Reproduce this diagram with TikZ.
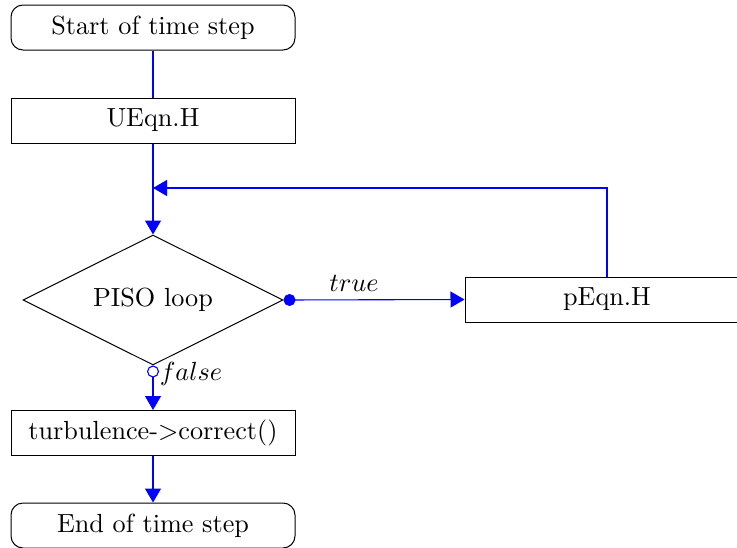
\documentclass[tikz,border=0pt]{standalone}
\usepackage{graphicx}
\usetikzlibrary{shapes.geometric,arrows.meta}
\newcommand\lbl[1]{\scalebox{2.62}{#1}}
\begin{document}
\begin{tikzpicture}[x=1pt,y=-1pt,
  box/.style={draw,line width=1pt,minimum width=284pt,minimum height=45pt,inner sep=0pt},
  termbox/.style={box,rounded corners=12pt},
  decbox/.style={draw,line width=1pt,diamond,aspect=2.05,minimum width=260pt,minimum height=130pt,inner sep=0pt},
  conn/.style={blue,line width=1.1pt},
  arr/.style={conn,-{Triangle[width=16pt,length=14pt]}}]
\useasboundingbox (0,0) rectangle (737,547);
\node[termbox] (start) at (153,27.5) {\lbl{Start of time step}};
\node[box] (ueqn) at (153,120.5) {\lbl{UEqn.H}};
\node[decbox] (piso) at (153,300) {\lbl{PISO loop}};
\node[box] (peqn) at (607,299.5) {\lbl{pEqn.H}};
\node[box] (turb) at (153,433) {\lbl{turbulence-$>$correct()}};
\node[termbox] (end) at (153,525.5) {\lbl{End of time step}};
\coordinate (loopend) at (153,188);
\draw[conn] (start) -- (ueqn);
\draw[arr] (ueqn) -- (piso);
\draw[conn,{Circle[length=12pt]}-{Triangle[width=16pt,length=14pt]}] (piso.east) -- node[pos=0.39,above=4pt,black] (tl) {\lbl{$true$}} (peqn.west);
\draw[arr] (peqn.north) |- (loopend);
\draw[conn,{Circle[open,length=12pt]}-{Triangle[width=16pt,length=14pt]}] (piso.south) -- node[pos=0.2,right=3pt,black] (fl) {\lbl{$false$}} (turb.north);
\draw[arr] (turb) -- (end);
\end{tikzpicture}
\end{document}
